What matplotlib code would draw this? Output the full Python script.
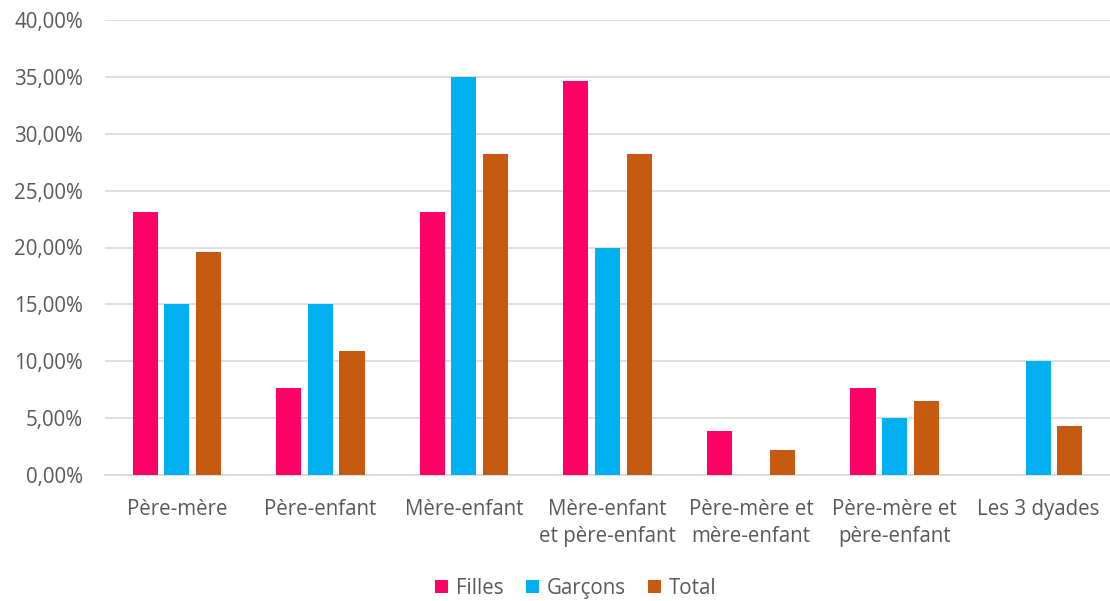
import matplotlib
matplotlib.use("Agg")
import matplotlib.pyplot as plt
import numpy as np
from matplotlib.ticker import FuncFormatter, MultipleLocator

categories = ["Père-mère", "Père-enfant", "Mère-enfant", "Mère-enfant\net père-enfant",
              "Père-mère et\nmère-enfant", "Père-mère et\npère-enfant", "Les 3 dyades"]
filles = [23.08, 7.69, 23.08, 34.62, 3.85, 7.69, 0.0]
garcons = [15.0, 15.0, 35.0, 20.0, 0.0, 5.0, 10.0]
total = [19.57, 10.87, 28.26, 28.26, 2.17, 6.52, 4.35]
series_names = ["Filles", "Garçons", "Total"]
colors = ["#FF0066", "#00B0F0", "#C55A11"]

plt.rcParams['font.family'] = ['Open Sans', 'DejaVu Sans']
txt = "#595959"
fs = 14.8

fig = plt.figure(figsize=(11.1, 6.01), dpi=100)
ax = fig.add_axes([105/1110, 1-475/601, 1-105/1110, (475-20)/601])

x = np.arange(len(categories))
w = 0.175
step = 0.22
for i, (vals, name, c) in enumerate(zip([filles, garcons, total], series_names, colors)):
    ax.bar(x + (i-1)*step, vals, width=w, color=c, label=name, zorder=3)

ax.set_xlim(-0.5, len(categories)-0.5)
ax.set_ylim(0, 40)
ax.yaxis.set_major_locator(MultipleLocator(5))
ax.yaxis.set_major_formatter(FuncFormatter(lambda v, p: f"{v:.2f}".replace(".", ",") + "%"))
ax.grid(axis="y", color="#D9D9D9", linewidth=1.2, zorder=0)
for s in ["top", "right", "left"]:
    ax.spines[s].set_visible(False)
ax.spines["bottom"].set_color("#D9D9D9")
ax.spines["bottom"].set_linewidth(1.2)
ax.set_xticks(x)
ax.set_xticklabels(categories, fontsize=fs, color=txt, linespacing=1.4)
ax.tick_params(axis="both", length=0, labelsize=fs, labelcolor=txt)
ax.tick_params(axis="x", pad=17)
ax.tick_params(axis="y", pad=16)

fig.legend(loc="lower center", bbox_to_anchor=(0.5185, -0.027), ncol=3, frameon=False,
           fontsize=fs, labelcolor=txt, handlelength=0.65, handleheight=0.65,
           handletextpad=0.35, columnspacing=1.1)

fig.savefig("out.png", dpi=100)
